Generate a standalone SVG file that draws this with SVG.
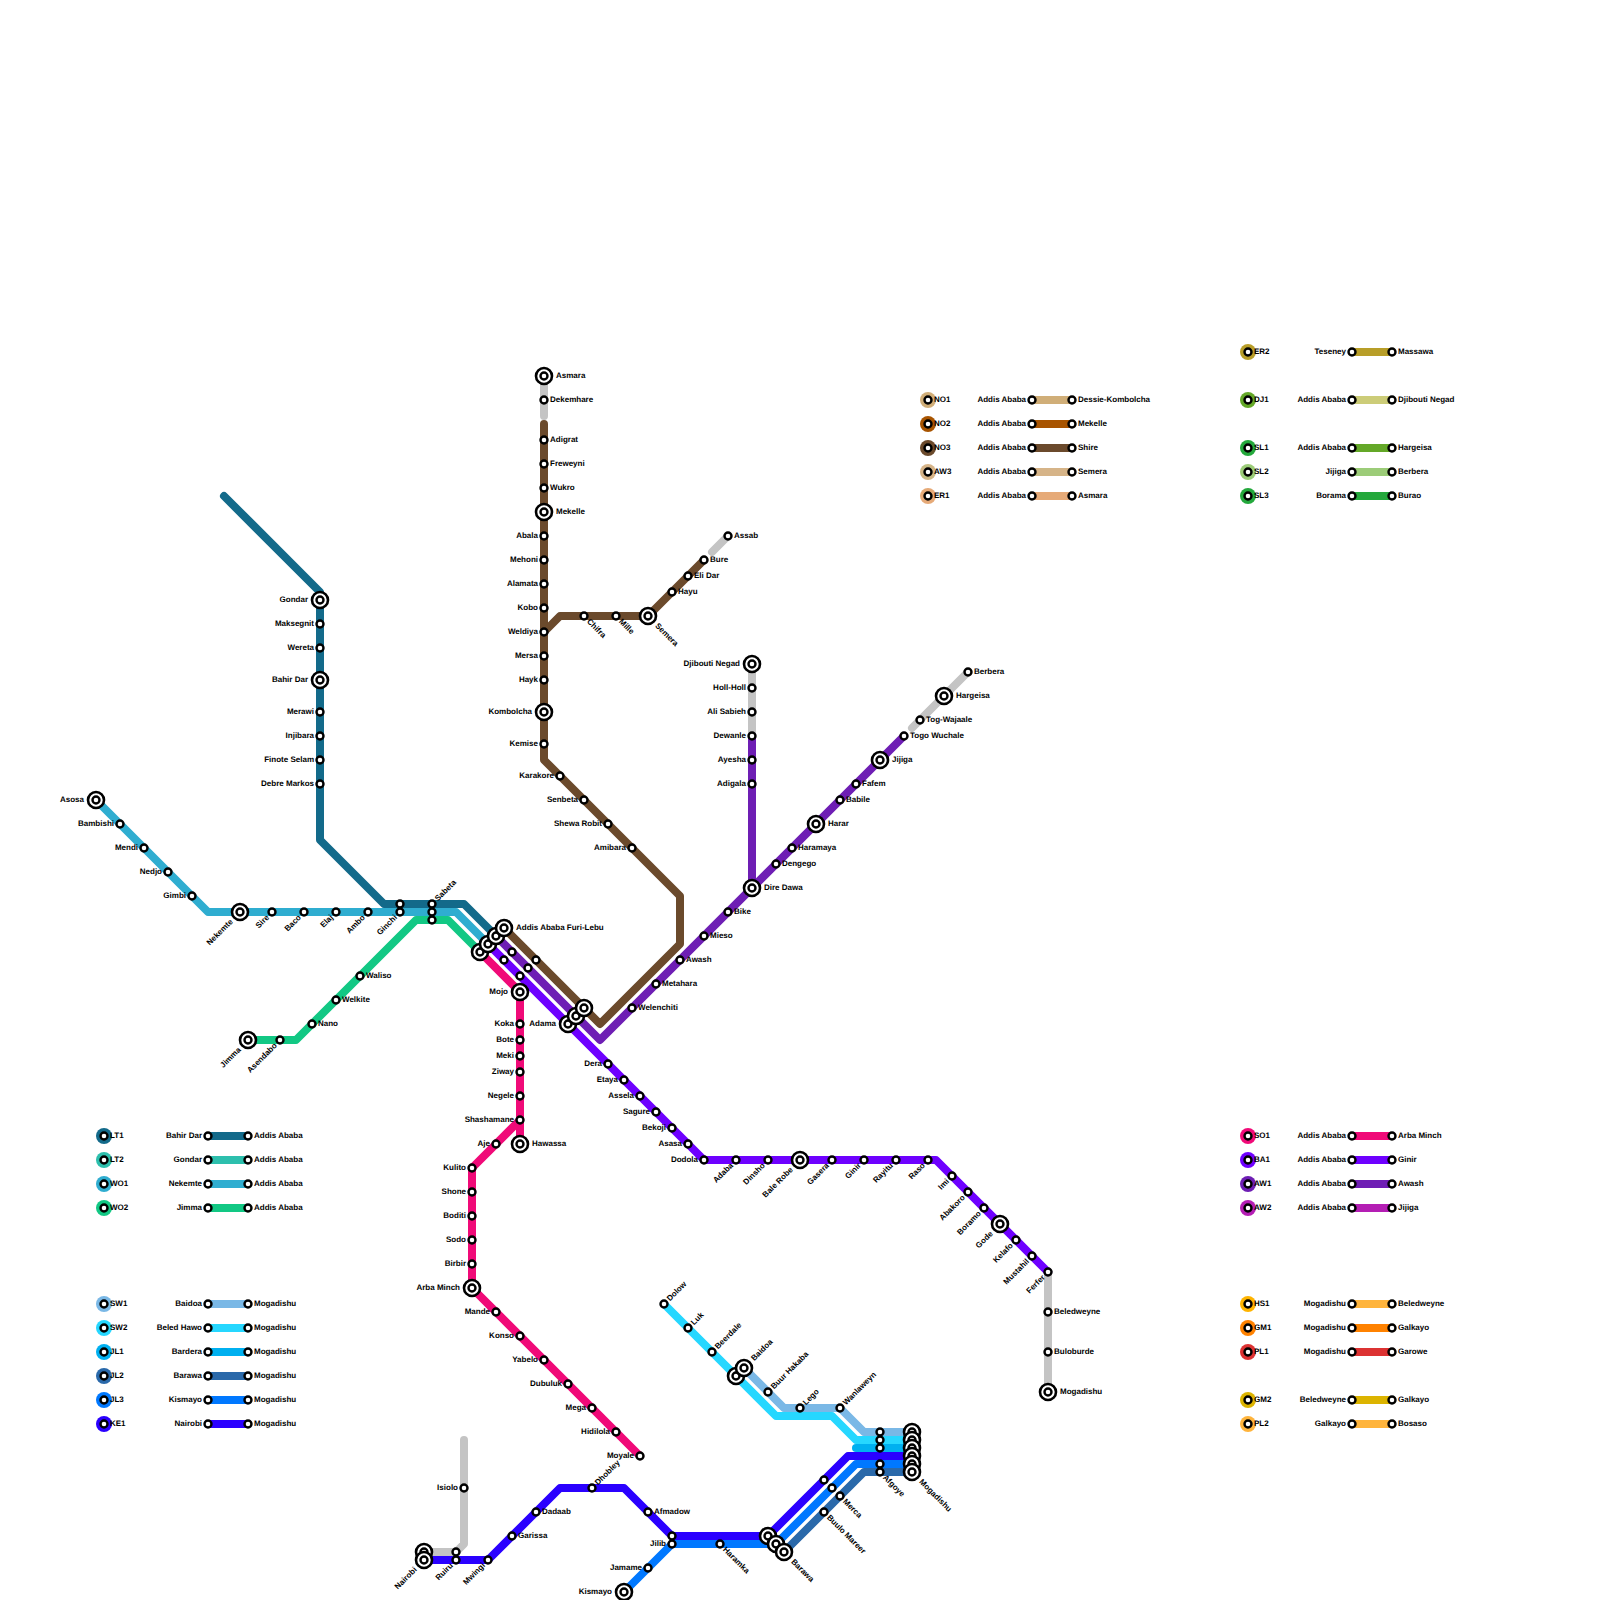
<svg xmlns="http://www.w3.org/2000/svg" width="1600" height="1600" viewBox="0 0 1600 1600">
<style>
text{font-family:"Liberation Sans",Arial,sans-serif;font-size:8px;font-weight:bold;fill:#000;text-rendering:geometricPrecision}
.e{text-anchor:end}
path{fill:none;stroke-width:8;stroke-linecap:round;stroke-linejoin:round}
.s{fill:#fff;stroke:#000;stroke-width:2.4}
.i{fill:#fff;stroke:#000;stroke-width:2.6}
</style>
<rect width="1600" height="1600" fill="#fff"/>
<g id="connectors">
<path stroke="#c4c4c4" d="M544 376V416M712 552L728 536M752 664V736M912 728L968 672M1048 1272V1392M464 1440V1544L456 1552H424"/>
<path stroke="#136a8a" d="M224 496L320 592V840L384 904H464L496 936"/>
<path stroke="#2fadd0" d="M96 800L208 912H456L488 944"/>
<path stroke="#12c884" d="M248 1040H296L416 920H448L480 952"/>
<path stroke="#f00a78" d="M480 952L520 992V1144M520 1120L472 1168V1288L640 1456"/>
<path stroke="#6e00ff" d="M488 944L704 1160H936L1048 1272"/>
<path stroke="#6e1eb4" d="M496 936L600 1040L904 736M752 736V888"/>
<path stroke="#6b4a2c" d="M544 424V760L680 896V944L600 1024L504 928M544 632L560 616H648L704 560"/>
<path stroke="#7ab8e6" d="M744 1368L784 1408H840L864 1432H912"/>
<path stroke="#26d7ff" d="M664 1304L776 1416H832L856 1440H912"/>
<path stroke="#00b0f0" d="M856 1448H912"/>
<path stroke="#2a69aa" d="M784 1552L864 1472H912"/>
<path stroke="#0078ff" d="M624 1592L672 1544H776L856 1464H912"/>
<path stroke="#2a00ff" d="M424 1560H488L560 1488H624L672 1536H768L848 1456H912"/>
</g>
<g id="stations-main">
<g id="st-asmara"><circle class="i" cx="544" cy="376" r="8"/><circle class="s" cx="544" cy="376" r="3.5"/><text x="556" y="378">Asmara</text></g>
<g id="st-dekemhare"><circle class="s" cx="544" cy="400" r="3.5"/><text x="550" y="402">Dekemhare</text></g>
<g id="st-adigrat"><circle class="s" cx="544" cy="440" r="3.5"/><text x="550" y="442">Adigrat</text></g>
<g id="st-freweyni"><circle class="s" cx="544" cy="464" r="3.5"/><text x="550" y="466">Freweyni</text></g>
<g id="st-wukro"><circle class="s" cx="544" cy="488" r="3.5"/><text x="550" y="490">Wukro</text></g>
<g id="st-mekelle"><circle class="i" cx="544" cy="512" r="8"/><circle class="s" cx="544" cy="512" r="3.5"/><text x="556" y="514">Mekelle</text></g>
<g id="st-abala"><circle class="s" cx="544" cy="536" r="3.5"/><text class="e" x="538" y="538">Abala</text></g>
<g id="st-mehoni"><circle class="s" cx="544" cy="560" r="3.5"/><text class="e" x="538" y="562">Mehoni</text></g>
<g id="st-alamata"><circle class="s" cx="544" cy="584" r="3.5"/><text class="e" x="538" y="586">Alamata</text></g>
<g id="st-kobo"><circle class="s" cx="544" cy="608" r="3.5"/><text class="e" x="538" y="610">Kobo</text></g>
<g id="st-weldiya"><circle class="s" cx="544" cy="632" r="3.5"/><text class="e" x="538" y="634">Weldiya</text></g>
<g id="st-mersa"><circle class="s" cx="544" cy="656" r="3.5"/><text class="e" x="538" y="658">Mersa</text></g>
<g id="st-hayk"><circle class="s" cx="544" cy="680" r="3.5"/><text class="e" x="538" y="682">Hayk</text></g>
<g id="st-kombolcha"><circle class="i" cx="544" cy="712" r="8"/><circle class="s" cx="544" cy="712" r="3.5"/><text class="e" x="532" y="714">Kombolcha</text></g>
<g id="st-kemise"><circle class="s" cx="544" cy="744" r="3.5"/><text class="e" x="538" y="746">Kemise</text></g>
<g id="st-karakore"><circle class="s" cx="560" cy="776" r="3.5"/><text class="e" x="554" y="778">Karakore</text></g>
<g id="st-senbeta"><circle class="s" cx="584" cy="800" r="3.5"/><text class="e" x="578" y="802">Senbeta</text></g>
<g id="st-shewa"><circle class="s" cx="608" cy="824" r="3.5"/><text class="e" x="602" y="826">Shewa Robit</text></g>
<g id="st-amibara"><circle class="s" cx="632" cy="848" r="3.5"/><text class="e" x="626" y="850">Amibara</text></g>
<g id="st-chifra"><circle class="s" cx="584" cy="616" r="3.5"/><text transform="translate(584 616) rotate(45)" x="6" y="2.5">Chifra</text></g>
<g id="st-mille"><circle class="s" cx="616" cy="616" r="3.5"/><text transform="translate(616 616) rotate(45)" x="6" y="2.5">Mille</text></g>
<g id="st-semera"><circle class="i" cx="648" cy="616" r="8"/><circle class="s" cx="648" cy="616" r="3.5"/><text transform="translate(648 616) rotate(45)" x="12" y="2.5">Semera</text></g>
<g id="st-hayu"><circle class="s" cx="672" cy="592" r="3.5"/><text x="678" y="594">Hayu</text></g>
<g id="st-elidar"><circle class="s" cx="688" cy="576" r="3.5"/><text x="694" y="578">Eli Dar</text></g>
<g id="st-bure"><circle class="s" cx="704" cy="560" r="3.5"/><text x="710" y="562">Bure</text></g>
<g id="st-assab"><circle class="s" cx="728" cy="536" r="3.5"/><text x="734" y="538">Assab</text></g>
<g id="st-djibouti"><circle class="i" cx="752" cy="664" r="8"/><circle class="s" cx="752" cy="664" r="3.5"/><text class="e" x="740" y="666">Djibouti Negad</text></g>
<g id="st-holl"><circle class="s" cx="752" cy="688" r="3.5"/><text class="e" x="746" y="690">Holl-Holl</text></g>
<g id="st-ali"><circle class="s" cx="752" cy="712" r="3.5"/><text class="e" x="746" y="714">Ali Sabieh</text></g>
<g id="st-dewanle"><circle class="s" cx="752" cy="736" r="3.5"/><text class="e" x="746" y="738">Dewanle</text></g>
<g id="st-ayesha"><circle class="s" cx="752" cy="760" r="3.5"/><text class="e" x="746" y="762">Ayesha</text></g>
<g id="st-adigala"><circle class="s" cx="752" cy="784" r="3.5"/><text class="e" x="746" y="786">Adigala</text></g>
<g id="st-diredawa"><circle class="i" cx="752" cy="888" r="8"/><circle class="s" cx="752" cy="888" r="3.5"/><text x="764" y="890">Dire Dawa</text></g>
<g id="st-berbera"><circle class="s" cx="968" cy="672" r="3.5"/><text x="974" y="674">Berbera</text></g>
<g id="st-hargeisa"><circle class="i" cx="944" cy="696" r="8"/><circle class="s" cx="944" cy="696" r="3.5"/><text x="956" y="698">Hargeisa</text></g>
<g id="st-togw"><circle class="s" cx="920" cy="720" r="3.5"/><text x="926" y="722">Tog-Wajaale</text></g>
<g id="st-togo"><circle class="s" cx="904" cy="736" r="3.5"/><text x="910" y="738">Togo Wuchale</text></g>
<g id="st-jijiga"><circle class="i" cx="880" cy="760" r="8"/><circle class="s" cx="880" cy="760" r="3.5"/><text x="892" y="762">Jijiga</text></g>
<g id="st-fafem"><circle class="s" cx="856" cy="784" r="3.5"/><text x="862" y="786">Fafem</text></g>
<g id="st-babile"><circle class="s" cx="840" cy="800" r="3.5"/><text x="846" y="802">Babile</text></g>
<g id="st-harar"><circle class="i" cx="816" cy="824" r="8"/><circle class="s" cx="816" cy="824" r="3.5"/><text x="828" y="826">Harar</text></g>
<g id="st-haramaya"><circle class="s" cx="792" cy="848" r="3.5"/><text x="798" y="850">Haramaya</text></g>
<g id="st-dengego"><circle class="s" cx="776" cy="864" r="3.5"/><text x="782" y="866">Dengego</text></g>
<g id="st-bike"><circle class="s" cx="728" cy="912" r="3.5"/><text x="734" y="914">Bike</text></g>
<g id="st-mieso"><circle class="s" cx="704" cy="936" r="3.5"/><text x="710" y="938">Mieso</text></g>
<g id="st-awash"><circle class="s" cx="680" cy="960" r="3.5"/><text x="686" y="962">Awash</text></g>
<g id="st-metahara"><circle class="s" cx="656" cy="984" r="3.5"/><text x="662" y="986">Metahara</text></g>
<g id="st-welenchiti"><circle class="s" cx="632" cy="1008" r="3.5"/><text x="638" y="1010">Welenchiti</text></g>
<g id="st-gondar"><circle class="i" cx="320" cy="600" r="8"/><circle class="s" cx="320" cy="600" r="3.5"/><text class="e" x="308" y="602">Gondar</text></g>
<g id="st-maksegnit"><circle class="s" cx="320" cy="624" r="3.5"/><text class="e" x="314" y="626">Maksegnit</text></g>
<g id="st-wereta"><circle class="s" cx="320" cy="648" r="3.5"/><text class="e" x="314" y="650">Wereta</text></g>
<g id="st-bahirdar"><circle class="i" cx="320" cy="680" r="8"/><circle class="s" cx="320" cy="680" r="3.5"/><text class="e" x="308" y="682">Bahir Dar</text></g>
<g id="st-merawi"><circle class="s" cx="320" cy="712" r="3.5"/><text class="e" x="314" y="714">Merawi</text></g>
<g id="st-injibara"><circle class="s" cx="320" cy="736" r="3.5"/><text class="e" x="314" y="738">Injibara</text></g>
<g id="st-finote"><circle class="s" cx="320" cy="760" r="3.5"/><text class="e" x="314" y="762">Finote Selam</text></g>
<g id="st-debre"><circle class="s" cx="320" cy="784" r="3.5"/><text class="e" x="314" y="786">Debre Markos</text></g>
<g id="st-asosa"><circle class="i" cx="96" cy="800" r="8"/><circle class="s" cx="96" cy="800" r="3.5"/><text class="e" x="84" y="802">Asosa</text></g>
<g id="st-bambishi"><circle class="s" cx="120" cy="824" r="3.5"/><text class="e" x="114" y="826">Bambishi</text></g>
<g id="st-mendi"><circle class="s" cx="144" cy="848" r="3.5"/><text class="e" x="138" y="850">Mendi</text></g>
<g id="st-nedjo"><circle class="s" cx="168" cy="872" r="3.5"/><text class="e" x="162" y="874">Nedjo</text></g>
<g id="st-gimbi"><circle class="s" cx="192" cy="896" r="3.5"/><text class="e" x="186" y="898">Gimbi</text></g>
<g id="st-nekemte"><circle class="i" cx="240" cy="912" r="8"/><circle class="s" cx="240" cy="912" r="3.5"/><text class="e" transform="translate(240 912) rotate(-45)" x="-12" y="2.5">Nekemte</text></g>
<g id="st-sire"><circle class="s" cx="272" cy="912" r="3.5"/><text class="e" transform="translate(272 912) rotate(-45)" x="-6" y="2.5">Sire</text></g>
<g id="st-baco"><circle class="s" cx="304" cy="912" r="3.5"/><text class="e" transform="translate(304 912) rotate(-45)" x="-6" y="2.5">Baco</text></g>
<g id="st-elaj"><circle class="s" cx="336" cy="912" r="3.5"/><text class="e" transform="translate(336 912) rotate(-45)" x="-6" y="2.5">Elaj</text></g>
<g id="st-ambo"><circle class="s" cx="368" cy="912" r="3.5"/><text class="e" transform="translate(368 912) rotate(-45)" x="-6" y="2.5">Ambo</text></g>
<g id="st-ginchi"><circle class="s" cx="400" cy="912" r="3.5"/><text class="e" transform="translate(400 912) rotate(-45)" x="-6" y="2.5">Ginchi</text></g>
<g id="st-ginchi2"><circle class="s" cx="400" cy="904" r="3.5"/></g>
<g id="st-sabeta"><circle class="s" cx="432" cy="904" r="3.5"/><text transform="translate(432 904) rotate(-45)" x="6" y="2.5">Sabeta</text></g>
<g id="st-sabeta2"><circle class="s" cx="432" cy="912" r="3.5"/></g>
<g id="st-sabeta3"><circle class="s" cx="432" cy="920" r="3.5"/></g>
<g id="st-jimma"><circle class="i" cx="248" cy="1040" r="8"/><circle class="s" cx="248" cy="1040" r="3.5"/><text class="e" transform="translate(248 1040) rotate(-45)" x="-12" y="2.5">Jimma</text></g>
<g id="st-asendabo"><circle class="s" cx="280" cy="1040" r="3.5"/><text class="e" transform="translate(280 1040) rotate(-45)" x="-6" y="2.5">Asendabo</text></g>
<g id="st-nano"><circle class="s" cx="312" cy="1024" r="3.5"/><text x="318" y="1026">Nano</text></g>
<g id="st-welkite"><circle class="s" cx="336" cy="1000" r="3.5"/><text x="342" y="1002">Welkite</text></g>
<g id="st-waliso"><circle class="s" cx="360" cy="976" r="3.5"/><text x="366" y="978">Waliso</text></g>
<g id="st-aa1"><circle class="i" cx="480" cy="952" r="8"/><circle class="s" cx="480" cy="952" r="3.5"/></g>
<g id="st-aa2"><circle class="i" cx="488" cy="944" r="8"/><circle class="s" cx="488" cy="944" r="3.5"/></g>
<g id="st-aa3"><circle class="i" cx="496" cy="936" r="8"/><circle class="s" cx="496" cy="936" r="3.5"/></g>
<g id="st-aa4"><circle class="i" cx="504" cy="928" r="8"/><circle class="s" cx="504" cy="928" r="3.5"/><text x="516" y="930">Addis Ababa Furi-Lebu</text></g>
<g id="st-a"><circle class="s" cx="512" cy="952" r="3.5"/></g>
<g id="st-b"><circle class="s" cx="504" cy="960" r="3.5"/></g>
<g id="st-c"><circle class="s" cx="536" cy="960" r="3.5"/></g>
<g id="st-d"><circle class="s" cx="528" cy="968" r="3.5"/></g>
<g id="st-f"><circle class="s" cx="520" cy="976" r="3.5"/></g>
<g id="st-mojo"><circle class="i" cx="520" cy="992" r="8"/><circle class="s" cx="520" cy="992" r="3.5"/><text class="e" x="508" y="994">Mojo</text></g>
<g id="st-adama1"><circle class="i" cx="568" cy="1024" r="8"/><circle class="s" cx="568" cy="1024" r="3.5"/><text class="e" x="556" y="1026">Adama</text></g>
<g id="st-adama2"><circle class="i" cx="576" cy="1016" r="8"/><circle class="s" cx="576" cy="1016" r="3.5"/></g>
<g id="st-adama3"><circle class="i" cx="584" cy="1008" r="8"/><circle class="s" cx="584" cy="1008" r="3.5"/></g>
<g id="st-koka"><circle class="s" cx="520" cy="1024" r="3.5"/><text class="e" x="514" y="1026">Koka</text></g>
<g id="st-bote"><circle class="s" cx="520" cy="1040" r="3.5"/><text class="e" x="514" y="1042">Bote</text></g>
<g id="st-meki"><circle class="s" cx="520" cy="1056" r="3.5"/><text class="e" x="514" y="1058">Meki</text></g>
<g id="st-ziway"><circle class="s" cx="520" cy="1072" r="3.5"/><text class="e" x="514" y="1074">Ziway</text></g>
<g id="st-negele"><circle class="s" cx="520" cy="1096" r="3.5"/><text class="e" x="514" y="1098">Negele</text></g>
<g id="st-shashamane"><circle class="s" cx="520" cy="1120" r="3.5"/><text class="e" x="514" y="1122">Shashamane</text></g>
<g id="st-hawassa"><circle class="i" cx="520" cy="1144" r="8"/><circle class="s" cx="520" cy="1144" r="3.5"/><text x="532" y="1146">Hawassa</text></g>
<g id="st-aje"><circle class="s" cx="496" cy="1144" r="3.5"/><text class="e" x="490" y="1146">Aje</text></g>
<g id="st-kulito"><circle class="s" cx="472" cy="1168" r="3.5"/><text class="e" x="466" y="1170">Kulito</text></g>
<g id="st-shone"><circle class="s" cx="472" cy="1192" r="3.5"/><text class="e" x="466" y="1194">Shone</text></g>
<g id="st-boditi"><circle class="s" cx="472" cy="1216" r="3.5"/><text class="e" x="466" y="1218">Boditi</text></g>
<g id="st-sodo"><circle class="s" cx="472" cy="1240" r="3.5"/><text class="e" x="466" y="1242">Sodo</text></g>
<g id="st-birbir"><circle class="s" cx="472" cy="1264" r="3.5"/><text class="e" x="466" y="1266">Birbir</text></g>
<g id="st-arba"><circle class="i" cx="472" cy="1288" r="8"/><circle class="s" cx="472" cy="1288" r="3.5"/><text class="e" x="460" y="1290">Arba Minch</text></g>
<g id="st-mande"><circle class="s" cx="496" cy="1312" r="3.5"/><text class="e" x="490" y="1314">Mande</text></g>
<g id="st-konso"><circle class="s" cx="520" cy="1336" r="3.5"/><text class="e" x="514" y="1338">Konso</text></g>
<g id="st-yabelo"><circle class="s" cx="544" cy="1360" r="3.5"/><text class="e" x="538" y="1362">Yabelo</text></g>
<g id="st-dubuluk"><circle class="s" cx="568" cy="1384" r="3.5"/><text class="e" x="562" y="1386">Dubuluk</text></g>
<g id="st-mega"><circle class="s" cx="592" cy="1408" r="3.5"/><text class="e" x="586" y="1410">Mega</text></g>
<g id="st-hidilola"><circle class="s" cx="616" cy="1432" r="3.5"/><text class="e" x="610" y="1434">Hidilola</text></g>
<g id="st-moyale"><circle class="s" cx="640" cy="1456" r="3.5"/><text class="e" x="634" y="1458">Moyale</text></g>
<g id="st-dera"><circle class="s" cx="608" cy="1064" r="3.5"/><text class="e" x="602" y="1066">Dera</text></g>
<g id="st-etaya"><circle class="s" cx="624" cy="1080" r="3.5"/><text class="e" x="618" y="1082">Etaya</text></g>
<g id="st-assela"><circle class="s" cx="640" cy="1096" r="3.5"/><text class="e" x="634" y="1098">Assela</text></g>
<g id="st-sagure"><circle class="s" cx="656" cy="1112" r="3.5"/><text class="e" x="650" y="1114">Sagure</text></g>
<g id="st-bekoji"><circle class="s" cx="672" cy="1128" r="3.5"/><text class="e" x="666" y="1130">Bekoji</text></g>
<g id="st-asasa"><circle class="s" cx="688" cy="1144" r="3.5"/><text class="e" x="682" y="1146">Asasa</text></g>
<g id="st-dodola"><circle class="s" cx="704" cy="1160" r="3.5"/><text class="e" x="698" y="1162">Dodola</text></g>
<g id="st-adaba"><circle class="s" cx="736" cy="1160" r="3.5"/><text class="e" transform="translate(736 1160) rotate(-45)" x="-6" y="2.5">Adaba</text></g>
<g id="st-dinsho"><circle class="s" cx="768" cy="1160" r="3.5"/><text class="e" transform="translate(768 1160) rotate(-45)" x="-6" y="2.5">Dinsho</text></g>
<g id="st-balerobe"><circle class="i" cx="800" cy="1160" r="8"/><circle class="s" cx="800" cy="1160" r="3.5"/><text class="e" transform="translate(800 1160) rotate(-45)" x="-12" y="2.5">Bale Robe</text></g>
<g id="st-gasera"><circle class="s" cx="832" cy="1160" r="3.5"/><text class="e" transform="translate(832 1160) rotate(-45)" x="-6" y="2.5">Gasera</text></g>
<g id="st-ginir"><circle class="s" cx="864" cy="1160" r="3.5"/><text class="e" transform="translate(864 1160) rotate(-45)" x="-6" y="2.5">Ginir</text></g>
<g id="st-rayitu"><circle class="s" cx="896" cy="1160" r="3.5"/><text class="e" transform="translate(896 1160) rotate(-45)" x="-6" y="2.5">Rayitu</text></g>
<g id="st-raso"><circle class="s" cx="928" cy="1160" r="3.5"/><text class="e" transform="translate(928 1160) rotate(-45)" x="-6" y="2.5">Raso</text></g>
<g id="st-imi"><circle class="s" cx="952" cy="1176" r="3.5"/><text class="e" transform="translate(952 1176) rotate(-45)" x="-6" y="2.5">Imi</text></g>
<g id="st-abakoro"><circle class="s" cx="968" cy="1192" r="3.5"/><text class="e" transform="translate(968 1192) rotate(-45)" x="-6" y="2.5">Abakoro</text></g>
<g id="st-boramo"><circle class="s" cx="984" cy="1208" r="3.5"/><text class="e" transform="translate(984 1208) rotate(-45)" x="-6" y="2.5">Boramo</text></g>
<g id="st-gode"><circle class="i" cx="1000" cy="1224" r="8"/><circle class="s" cx="1000" cy="1224" r="3.5"/><text class="e" transform="translate(1000 1224) rotate(-45)" x="-12" y="2.5">Gode</text></g>
<g id="st-kelafo"><circle class="s" cx="1016" cy="1240" r="3.5"/><text class="e" transform="translate(1016 1240) rotate(-45)" x="-6" y="2.5">Kelafo</text></g>
<g id="st-mustahil"><circle class="s" cx="1032" cy="1256" r="3.5"/><text class="e" transform="translate(1032 1256) rotate(-45)" x="-6" y="2.5">Mustahil</text></g>
<g id="st-ferfer"><circle class="s" cx="1048" cy="1272" r="3.5"/><text class="e" transform="translate(1048 1272) rotate(-45)" x="-6" y="2.5">Ferfer</text></g>
<g id="st-beledweyne"><circle class="s" cx="1048" cy="1312" r="3.5"/><text x="1054" y="1314">Beledweyne</text></g>
<g id="st-buloburde"><circle class="s" cx="1048" cy="1352" r="3.5"/><text x="1054" y="1354">Buloburde</text></g>
<g id="st-mog0"><circle class="i" cx="1048" cy="1392" r="8"/><circle class="s" cx="1048" cy="1392" r="3.5"/><text x="1060" y="1394">Mogadishu</text></g>
<g id="st-dolow"><circle class="s" cx="664" cy="1304" r="3.5"/><text transform="translate(664 1304) rotate(-45)" x="6" y="2.5">Dolow</text></g>
<g id="st-luk"><circle class="s" cx="688" cy="1328" r="3.5"/><text transform="translate(688 1328) rotate(-45)" x="6" y="2.5">Luk</text></g>
<g id="st-beerdale"><circle class="s" cx="712" cy="1352" r="3.5"/><text transform="translate(712 1352) rotate(-45)" x="6" y="2.5">Beerdale</text></g>
<g id="st-baidoa2"><circle class="i" cx="736" cy="1376" r="8"/><circle class="s" cx="736" cy="1376" r="3.5"/></g>
<g id="st-baidoa"><circle class="i" cx="744" cy="1368" r="8"/><circle class="s" cx="744" cy="1368" r="3.5"/><text transform="translate(744 1368) rotate(-45)" x="12" y="2.5">Baidoa</text></g>
<g id="st-buur"><circle class="s" cx="768" cy="1392" r="3.5"/><text transform="translate(768 1392) rotate(-45)" x="6" y="2.5">Buur Hakaba</text></g>
<g id="st-lego"><circle class="s" cx="800" cy="1408" r="3.5"/><text transform="translate(800 1408) rotate(-45)" x="6" y="2.5">Lego</text></g>
<g id="st-wanlaweyn"><circle class="s" cx="840" cy="1408" r="3.5"/><text transform="translate(840 1408) rotate(-45)" x="6" y="2.5">Wanlaweyn</text></g>
<g id="st-u1"><circle class="s" cx="880" cy="1432" r="3.5"/></g>
<g id="st-u2"><circle class="s" cx="880" cy="1440" r="3.5"/></g>
<g id="st-u3"><circle class="s" cx="880" cy="1448" r="3.5"/></g>
<g id="st-u4"><circle class="s" cx="880" cy="1464" r="3.5"/></g>
<g id="st-afgoye"><circle class="s" cx="880" cy="1472" r="3.5"/><text transform="translate(880 1472) rotate(45)" x="6" y="2.5">Afgoye</text></g>
<g id="st-mog1"><circle class="i" cx="912" cy="1432" r="8"/><circle class="s" cx="912" cy="1432" r="3.5"/></g>
<g id="st-mog2"><circle class="i" cx="912" cy="1440" r="8"/><circle class="s" cx="912" cy="1440" r="3.5"/></g>
<g id="st-mog3"><circle class="i" cx="912" cy="1448" r="8"/><circle class="s" cx="912" cy="1448" r="3.5"/></g>
<g id="st-mog4"><circle class="i" cx="912" cy="1456" r="8"/><circle class="s" cx="912" cy="1456" r="3.5"/></g>
<g id="st-mog5"><circle class="i" cx="912" cy="1464" r="8"/><circle class="s" cx="912" cy="1464" r="3.5"/></g>
<g id="st-mog6"><circle class="i" cx="912" cy="1472" r="8"/><circle class="s" cx="912" cy="1472" r="3.5"/><text transform="translate(912 1472) rotate(45)" x="12" y="2.5">Mogadishu</text></g>
<g id="st-m1"><circle class="s" cx="824" cy="1480" r="3.5"/></g>
<g id="st-m2"><circle class="s" cx="832" cy="1488" r="3.5"/></g>
<g id="st-merca"><circle class="s" cx="840" cy="1496" r="3.5"/><text transform="translate(840 1496) rotate(45)" x="6" y="2.5">Merca</text></g>
<g id="st-buulo"><circle class="s" cx="824" cy="1512" r="3.5"/><text transform="translate(824 1512) rotate(45)" x="6" y="2.5">Buulo Mareer</text></g>
<g id="st-bar1"><circle class="i" cx="768" cy="1536" r="8"/><circle class="s" cx="768" cy="1536" r="3.5"/></g>
<g id="st-bar2"><circle class="i" cx="776" cy="1544" r="8"/><circle class="s" cx="776" cy="1544" r="3.5"/></g>
<g id="st-barawa"><circle class="i" cx="784" cy="1552" r="8"/><circle class="s" cx="784" cy="1552" r="3.5"/><text transform="translate(784 1552) rotate(45)" x="12" y="2.5">Barawa</text></g>
<g id="st-haramka"><circle class="s" cx="720" cy="1544" r="3.5"/><text transform="translate(720 1544) rotate(45)" x="6" y="2.5">Haramka</text></g>
<g id="st-jilib2"><circle class="s" cx="672" cy="1536" r="3.5"/></g>
<g id="st-jilib"><circle class="s" cx="672" cy="1544" r="3.5"/><text class="e" x="666" y="1546">Jilib</text></g>
<g id="st-jamame"><circle class="s" cx="648" cy="1568" r="3.5"/><text class="e" x="642" y="1570">Jamame</text></g>
<g id="st-kismayo"><circle class="i" cx="624" cy="1592" r="8"/><circle class="s" cx="624" cy="1592" r="3.5"/><text class="e" x="612" y="1594">Kismayo</text></g>
<g id="st-afmadow"><circle class="s" cx="648" cy="1512" r="3.5"/><text x="654" y="1514">Afmadow</text></g>
<g id="st-dhobley"><circle class="s" cx="592" cy="1488" r="3.5"/><text transform="translate(592 1488) rotate(-45)" x="6" y="2.5">Dhobley</text></g>
<g id="st-dadaab"><circle class="s" cx="536" cy="1512" r="3.5"/><text x="542" y="1514">Dadaab</text></g>
<g id="st-garissa"><circle class="s" cx="512" cy="1536" r="3.5"/><text x="518" y="1538">Garissa</text></g>
<g id="st-mwingi"><circle class="s" cx="488" cy="1560" r="3.5"/><text class="e" transform="translate(488 1560) rotate(-45)" x="-6" y="2.5">Mwingi</text></g>
<g id="st-ruiru2"><circle class="s" cx="456" cy="1552" r="3.5"/></g>
<g id="st-ruiru"><circle class="s" cx="456" cy="1560" r="3.5"/><text class="e" transform="translate(456 1560) rotate(-45)" x="-6" y="2.5">Ruiru</text></g>
<g id="st-isiolo"><circle class="s" cx="464" cy="1488" r="3.5"/><text class="e" x="458" y="1490">Isiolo</text></g>
<g id="st-nairobi2"><circle class="i" cx="424" cy="1552" r="8"/><circle class="s" cx="424" cy="1552" r="3.5"/></g>
<g id="st-nairobi"><circle class="i" cx="424" cy="1560" r="8"/><circle class="s" cx="424" cy="1560" r="3.5"/><text class="e" transform="translate(424 1560) rotate(-45)" x="-12" y="2.5">Nairobi</text></g>
</g>
<g id="legend">
<g id="lg-LT1"><circle cx="104" cy="1136" r="8" fill="#136a8a"/><circle class="s" cx="104" cy="1136" r="3.5"/><text x="110" y="1138">LT1</text><path stroke="#136a8a" d="M208 1136H248"/><circle class="s" cx="208" cy="1136" r="3.5"/><circle class="s" cx="248" cy="1136" r="3.5"/><text class="e" x="202" y="1138">Bahir Dar</text><text x="254" y="1138">Addis Ababa</text></g>
<g id="lg-LT2"><circle cx="104" cy="1160" r="8" fill="#2dbfad"/><circle class="s" cx="104" cy="1160" r="3.5"/><text x="110" y="1162">LT2</text><path stroke="#2dbfad" d="M208 1160H248"/><circle class="s" cx="208" cy="1160" r="3.5"/><circle class="s" cx="248" cy="1160" r="3.5"/><text class="e" x="202" y="1162">Gondar</text><text x="254" y="1162">Addis Ababa</text></g>
<g id="lg-WO1"><circle cx="104" cy="1184" r="8" fill="#2fadd0"/><circle class="s" cx="104" cy="1184" r="3.5"/><text x="110" y="1186">WO1</text><path stroke="#2fadd0" d="M208 1184H248"/><circle class="s" cx="208" cy="1184" r="3.5"/><circle class="s" cx="248" cy="1184" r="3.5"/><text class="e" x="202" y="1186">Nekemte</text><text x="254" y="1186">Addis Ababa</text></g>
<g id="lg-WO2"><circle cx="104" cy="1208" r="8" fill="#12c884"/><circle class="s" cx="104" cy="1208" r="3.5"/><text x="110" y="1210">WO2</text><path stroke="#12c884" d="M208 1208H248"/><circle class="s" cx="208" cy="1208" r="3.5"/><circle class="s" cx="248" cy="1208" r="3.5"/><text class="e" x="202" y="1210">Jimma</text><text x="254" y="1210">Addis Ababa</text></g>
<g id="lg-SW1"><circle cx="104" cy="1304" r="8" fill="#7ab8e6"/><circle class="s" cx="104" cy="1304" r="3.5"/><text x="110" y="1306">SW1</text><path stroke="#7ab8e6" d="M208 1304H248"/><circle class="s" cx="208" cy="1304" r="3.5"/><circle class="s" cx="248" cy="1304" r="3.5"/><text class="e" x="202" y="1306">Baidoa</text><text x="254" y="1306">Mogadishu</text></g>
<g id="lg-SW2"><circle cx="104" cy="1328" r="8" fill="#26d7ff"/><circle class="s" cx="104" cy="1328" r="3.5"/><text x="110" y="1330">SW2</text><path stroke="#26d7ff" d="M208 1328H248"/><circle class="s" cx="208" cy="1328" r="3.5"/><circle class="s" cx="248" cy="1328" r="3.5"/><text class="e" x="202" y="1330">Beled Hawo</text><text x="254" y="1330">Mogadishu</text></g>
<g id="lg-JL1"><circle cx="104" cy="1352" r="8" fill="#00b0f0"/><circle class="s" cx="104" cy="1352" r="3.5"/><text x="110" y="1354">JL1</text><path stroke="#00b0f0" d="M208 1352H248"/><circle class="s" cx="208" cy="1352" r="3.5"/><circle class="s" cx="248" cy="1352" r="3.5"/><text class="e" x="202" y="1354">Bardera</text><text x="254" y="1354">Mogadishu</text></g>
<g id="lg-JL2"><circle cx="104" cy="1376" r="8" fill="#2a69aa"/><circle class="s" cx="104" cy="1376" r="3.5"/><text x="110" y="1378">JL2</text><path stroke="#2a69aa" d="M208 1376H248"/><circle class="s" cx="208" cy="1376" r="3.5"/><circle class="s" cx="248" cy="1376" r="3.5"/><text class="e" x="202" y="1378">Barawa</text><text x="254" y="1378">Mogadishu</text></g>
<g id="lg-JL3"><circle cx="104" cy="1400" r="8" fill="#0078ff"/><circle class="s" cx="104" cy="1400" r="3.5"/><text x="110" y="1402">JL3</text><path stroke="#0078ff" d="M208 1400H248"/><circle class="s" cx="208" cy="1400" r="3.5"/><circle class="s" cx="248" cy="1400" r="3.5"/><text class="e" x="202" y="1402">Kismayo</text><text x="254" y="1402">Mogadishu</text></g>
<g id="lg-KE1"><circle cx="104" cy="1424" r="8" fill="#2a00ff"/><circle class="s" cx="104" cy="1424" r="3.5"/><text x="110" y="1426">KE1</text><path stroke="#2a00ff" d="M208 1424H248"/><circle class="s" cx="208" cy="1424" r="3.5"/><circle class="s" cx="248" cy="1424" r="3.5"/><text class="e" x="202" y="1426">Nairobi</text><text x="254" y="1426">Mogadishu</text></g>
<g id="lg-NO1"><circle cx="928" cy="400" r="8" fill="#d0ae78"/><circle class="s" cx="928" cy="400" r="3.5"/><text x="934" y="402">NO1</text><path stroke="#d0ae78" d="M1032 400H1072"/><circle class="s" cx="1032" cy="400" r="3.5"/><circle class="s" cx="1072" cy="400" r="3.5"/><text class="e" x="1026" y="402">Addis Ababa</text><text x="1078" y="402">Dessie-Kombolcha</text></g>
<g id="lg-NO2"><circle cx="928" cy="424" r="8" fill="#a85400"/><circle class="s" cx="928" cy="424" r="3.5"/><text x="934" y="426">NO2</text><path stroke="#a85400" d="M1032 424H1072"/><circle class="s" cx="1032" cy="424" r="3.5"/><circle class="s" cx="1072" cy="424" r="3.5"/><text class="e" x="1026" y="426">Addis Ababa</text><text x="1078" y="426">Mekelle</text></g>
<g id="lg-NO3"><circle cx="928" cy="448" r="8" fill="#6b4a2c"/><circle class="s" cx="928" cy="448" r="3.5"/><text x="934" y="450">NO3</text><path stroke="#6b4a2c" d="M1032 448H1072"/><circle class="s" cx="1032" cy="448" r="3.5"/><circle class="s" cx="1072" cy="448" r="3.5"/><text class="e" x="1026" y="450">Addis Ababa</text><text x="1078" y="450">Shire</text></g>
<g id="lg-AW3"><circle cx="928" cy="472" r="8" fill="#d6b488"/><circle class="s" cx="928" cy="472" r="3.5"/><text x="934" y="474">AW3</text><path stroke="#d6b488" d="M1032 472H1072"/><circle class="s" cx="1032" cy="472" r="3.5"/><circle class="s" cx="1072" cy="472" r="3.5"/><text class="e" x="1026" y="474">Addis Ababa</text><text x="1078" y="474">Semera</text></g>
<g id="lg-ER1"><circle cx="928" cy="496" r="8" fill="#e6aa78"/><circle class="s" cx="928" cy="496" r="3.5"/><text x="934" y="498">ER1</text><path stroke="#e6aa78" d="M1032 496H1072"/><circle class="s" cx="1032" cy="496" r="3.5"/><circle class="s" cx="1072" cy="496" r="3.5"/><text class="e" x="1026" y="498">Addis Ababa</text><text x="1078" y="498">Asmara</text></g>
<g id="lg-ER2"><circle cx="1248" cy="352" r="8" fill="#b89e28"/><circle class="s" cx="1248" cy="352" r="3.5"/><text x="1254" y="354">ER2</text><path stroke="#b89e28" d="M1352 352H1392"/><circle class="s" cx="1352" cy="352" r="3.5"/><circle class="s" cx="1392" cy="352" r="3.5"/><text class="e" x="1346" y="354">Teseney</text><text x="1398" y="354">Massawa</text></g>
<g id="lg-DJ1"><circle cx="1248" cy="400" r="8" fill="#64a828"/><circle class="s" cx="1248" cy="400" r="3.5"/><text x="1254" y="402">DJ1</text><path stroke="#cccc78" d="M1352 400H1392"/><circle class="s" cx="1352" cy="400" r="3.5"/><circle class="s" cx="1392" cy="400" r="3.5"/><text class="e" x="1346" y="402">Addis Ababa</text><text x="1398" y="402">Djibouti Negad</text></g>
<g id="lg-SL1"><circle cx="1248" cy="448" r="8" fill="#24a83c"/><circle class="s" cx="1248" cy="448" r="3.5"/><text x="1254" y="450">SL1</text><path stroke="#64a828" d="M1352 448H1392"/><circle class="s" cx="1352" cy="448" r="3.5"/><circle class="s" cx="1392" cy="448" r="3.5"/><text class="e" x="1346" y="450">Addis Ababa</text><text x="1398" y="450">Hargeisa</text></g>
<g id="lg-SL2"><circle cx="1248" cy="472" r="8" fill="#9ccc78"/><circle class="s" cx="1248" cy="472" r="3.5"/><text x="1254" y="474">SL2</text><path stroke="#9ccc78" d="M1352 472H1392"/><circle class="s" cx="1352" cy="472" r="3.5"/><circle class="s" cx="1392" cy="472" r="3.5"/><text class="e" x="1346" y="474">Jijiga</text><text x="1398" y="474">Berbera</text></g>
<g id="lg-SL3"><circle cx="1248" cy="496" r="8" fill="#24a83c"/><circle class="s" cx="1248" cy="496" r="3.5"/><text x="1254" y="498">SL3</text><path stroke="#24a83c" d="M1352 496H1392"/><circle class="s" cx="1352" cy="496" r="3.5"/><circle class="s" cx="1392" cy="496" r="3.5"/><text class="e" x="1346" y="498">Borama</text><text x="1398" y="498">Burao</text></g>
<g id="lg-SO1"><circle cx="1248" cy="1136" r="8" fill="#f00a78"/><circle class="s" cx="1248" cy="1136" r="3.5"/><text x="1254" y="1138">SO1</text><path stroke="#f00a78" d="M1352 1136H1392"/><circle class="s" cx="1352" cy="1136" r="3.5"/><circle class="s" cx="1392" cy="1136" r="3.5"/><text class="e" x="1346" y="1138">Addis Ababa</text><text x="1398" y="1138">Arba Minch</text></g>
<g id="lg-BA1"><circle cx="1248" cy="1160" r="8" fill="#6e00ff"/><circle class="s" cx="1248" cy="1160" r="3.5"/><text x="1254" y="1162">BA1</text><path stroke="#6e00ff" d="M1352 1160H1392"/><circle class="s" cx="1352" cy="1160" r="3.5"/><circle class="s" cx="1392" cy="1160" r="3.5"/><text class="e" x="1346" y="1162">Addis Ababa</text><text x="1398" y="1162">Ginir</text></g>
<g id="lg-AW1"><circle cx="1248" cy="1184" r="8" fill="#6e1eb4"/><circle class="s" cx="1248" cy="1184" r="3.5"/><text x="1254" y="1186">AW1</text><path stroke="#6e1eb4" d="M1352 1184H1392"/><circle class="s" cx="1352" cy="1184" r="3.5"/><circle class="s" cx="1392" cy="1184" r="3.5"/><text class="e" x="1346" y="1186">Addis Ababa</text><text x="1398" y="1186">Awash</text></g>
<g id="lg-AW2"><circle cx="1248" cy="1208" r="8" fill="#b41eb4"/><circle class="s" cx="1248" cy="1208" r="3.5"/><text x="1254" y="1210">AW2</text><path stroke="#b41eb4" d="M1352 1208H1392"/><circle class="s" cx="1352" cy="1208" r="3.5"/><circle class="s" cx="1392" cy="1208" r="3.5"/><text class="e" x="1346" y="1210">Addis Ababa</text><text x="1398" y="1210">Jijiga</text></g>
<g id="lg-HS1"><circle cx="1248" cy="1304" r="8" fill="#ffb400"/><circle class="s" cx="1248" cy="1304" r="3.5"/><text x="1254" y="1306">HS1</text><path stroke="#ffb43c" d="M1352 1304H1392"/><circle class="s" cx="1352" cy="1304" r="3.5"/><circle class="s" cx="1392" cy="1304" r="3.5"/><text class="e" x="1346" y="1306">Mogadishu</text><text x="1398" y="1306">Beledweyne</text></g>
<g id="lg-GM1"><circle cx="1248" cy="1328" r="8" fill="#ff8200"/><circle class="s" cx="1248" cy="1328" r="3.5"/><text x="1254" y="1330">GM1</text><path stroke="#ff8200" d="M1352 1328H1392"/><circle class="s" cx="1352" cy="1328" r="3.5"/><circle class="s" cx="1392" cy="1328" r="3.5"/><text class="e" x="1346" y="1330">Mogadishu</text><text x="1398" y="1330">Galkayo</text></g>
<g id="lg-PL1"><circle cx="1248" cy="1352" r="8" fill="#dc3232"/><circle class="s" cx="1248" cy="1352" r="3.5"/><text x="1254" y="1354">PL1</text><path stroke="#dc3232" d="M1352 1352H1392"/><circle class="s" cx="1352" cy="1352" r="3.5"/><circle class="s" cx="1392" cy="1352" r="3.5"/><text class="e" x="1346" y="1354">Mogadishu</text><text x="1398" y="1354">Garowe</text></g>
<g id="lg-GM2"><circle cx="1248" cy="1400" r="8" fill="#dcb400"/><circle class="s" cx="1248" cy="1400" r="3.5"/><text x="1254" y="1402">GM2</text><path stroke="#dcb400" d="M1352 1400H1392"/><circle class="s" cx="1352" cy="1400" r="3.5"/><circle class="s" cx="1392" cy="1400" r="3.5"/><text class="e" x="1346" y="1402">Beledweyne</text><text x="1398" y="1402">Galkayo</text></g>
<g id="lg-PL2"><circle cx="1248" cy="1424" r="8" fill="#ffb43c"/><circle class="s" cx="1248" cy="1424" r="3.5"/><text x="1254" y="1426">PL2</text><path stroke="#ffb43c" d="M1352 1424H1392"/><circle class="s" cx="1352" cy="1424" r="3.5"/><circle class="s" cx="1392" cy="1424" r="3.5"/><text class="e" x="1346" y="1426">Galkayo</text><text x="1398" y="1426">Bosaso</text></g>
</g>
</svg>
